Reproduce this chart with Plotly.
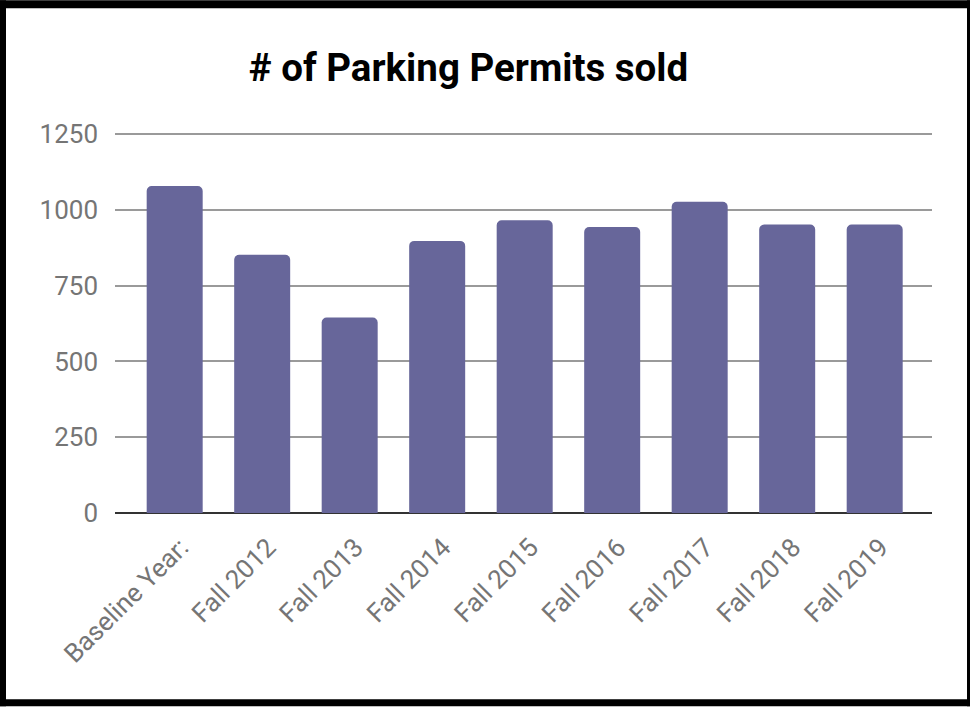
import plotly.graph_objects as go

categories = ["Baseline Year:", "Fall 2012", "Fall 2013", "Fall 2014", "Fall 2015",
              "Fall 2016", "Fall 2017", "Fall 2018", "Fall 2019"]
permits_sold = [1079, 852, 645, 898, 966, 944, 1027, 952, 952]
y_ticks = [0, 250, 500, 750, 1000, 1250]

W, H = 970, 707
L, R, T, B = 115, 38, 133, 193.5
pw, ph = W - L - R, H - T - B

def fx(px):
    return (px - L) / pw

def fy(py):
    return (H - B - py) / ph

fig = go.Figure(go.Bar(
    x=categories, y=permits_sold,
    marker=dict(color="#67669a", cornerradius=5, line=dict(width=0)),
    hoverinfo="skip",
))

border = "black"
shapes = []
for (x0, y0, x1, y1) in [(0, 0, 6, H), (0, 0, W, 8), (967, 0, W, H), (0, 700, W, H)]:
    shapes.append(dict(type="rect", xref="paper", yref="paper",
                       x0=fx(x0), x1=fx(x1), y0=fy(y1), y1=fy(y0),
                       fillcolor=border, line=dict(width=0), layer="above"))

fig.update_layout(
    width=W, height=H,
    margin=dict(l=L, r=R, t=T, b=B, pad=0),
    paper_bgcolor="white", plot_bgcolor="white",
    font=dict(family="Roboto", color="#757575"),
    title=dict(text="<b># of Parking Permits sold</b>", x=468.5 / W, xanchor="center",
               y=1 - 68 / H, yanchor="middle", yref="container",
               font=dict(family="Roboto", size=38.5, color="black")),
    bargap=0.36,
    showlegend=False,
    shapes=shapes,
    xaxis=dict(tickangle=-45, tickfont=dict(size=26, color="#757575"),
               range=[-0.682, 8.655],
               showgrid=False, showline=False, ticks="",
               ticklabelstandoff=13, ticklabelshift=6),
    yaxis=dict(range=[0, 1254], tickvals=y_ticks, tickfont=dict(size=26, color="#757575"),
               showgrid=True, gridcolor="#9a9a9a", gridwidth=2,
               zeroline=True, zerolinecolor="#333333", zerolinewidth=2,
               showline=False, ticks="", ticklabelstandoff=16),
)

fig.write_html("out.html", config={"displayModeBar": False},
               post_script="document.body.style.margin='0';document.body.style.padding='0';")
